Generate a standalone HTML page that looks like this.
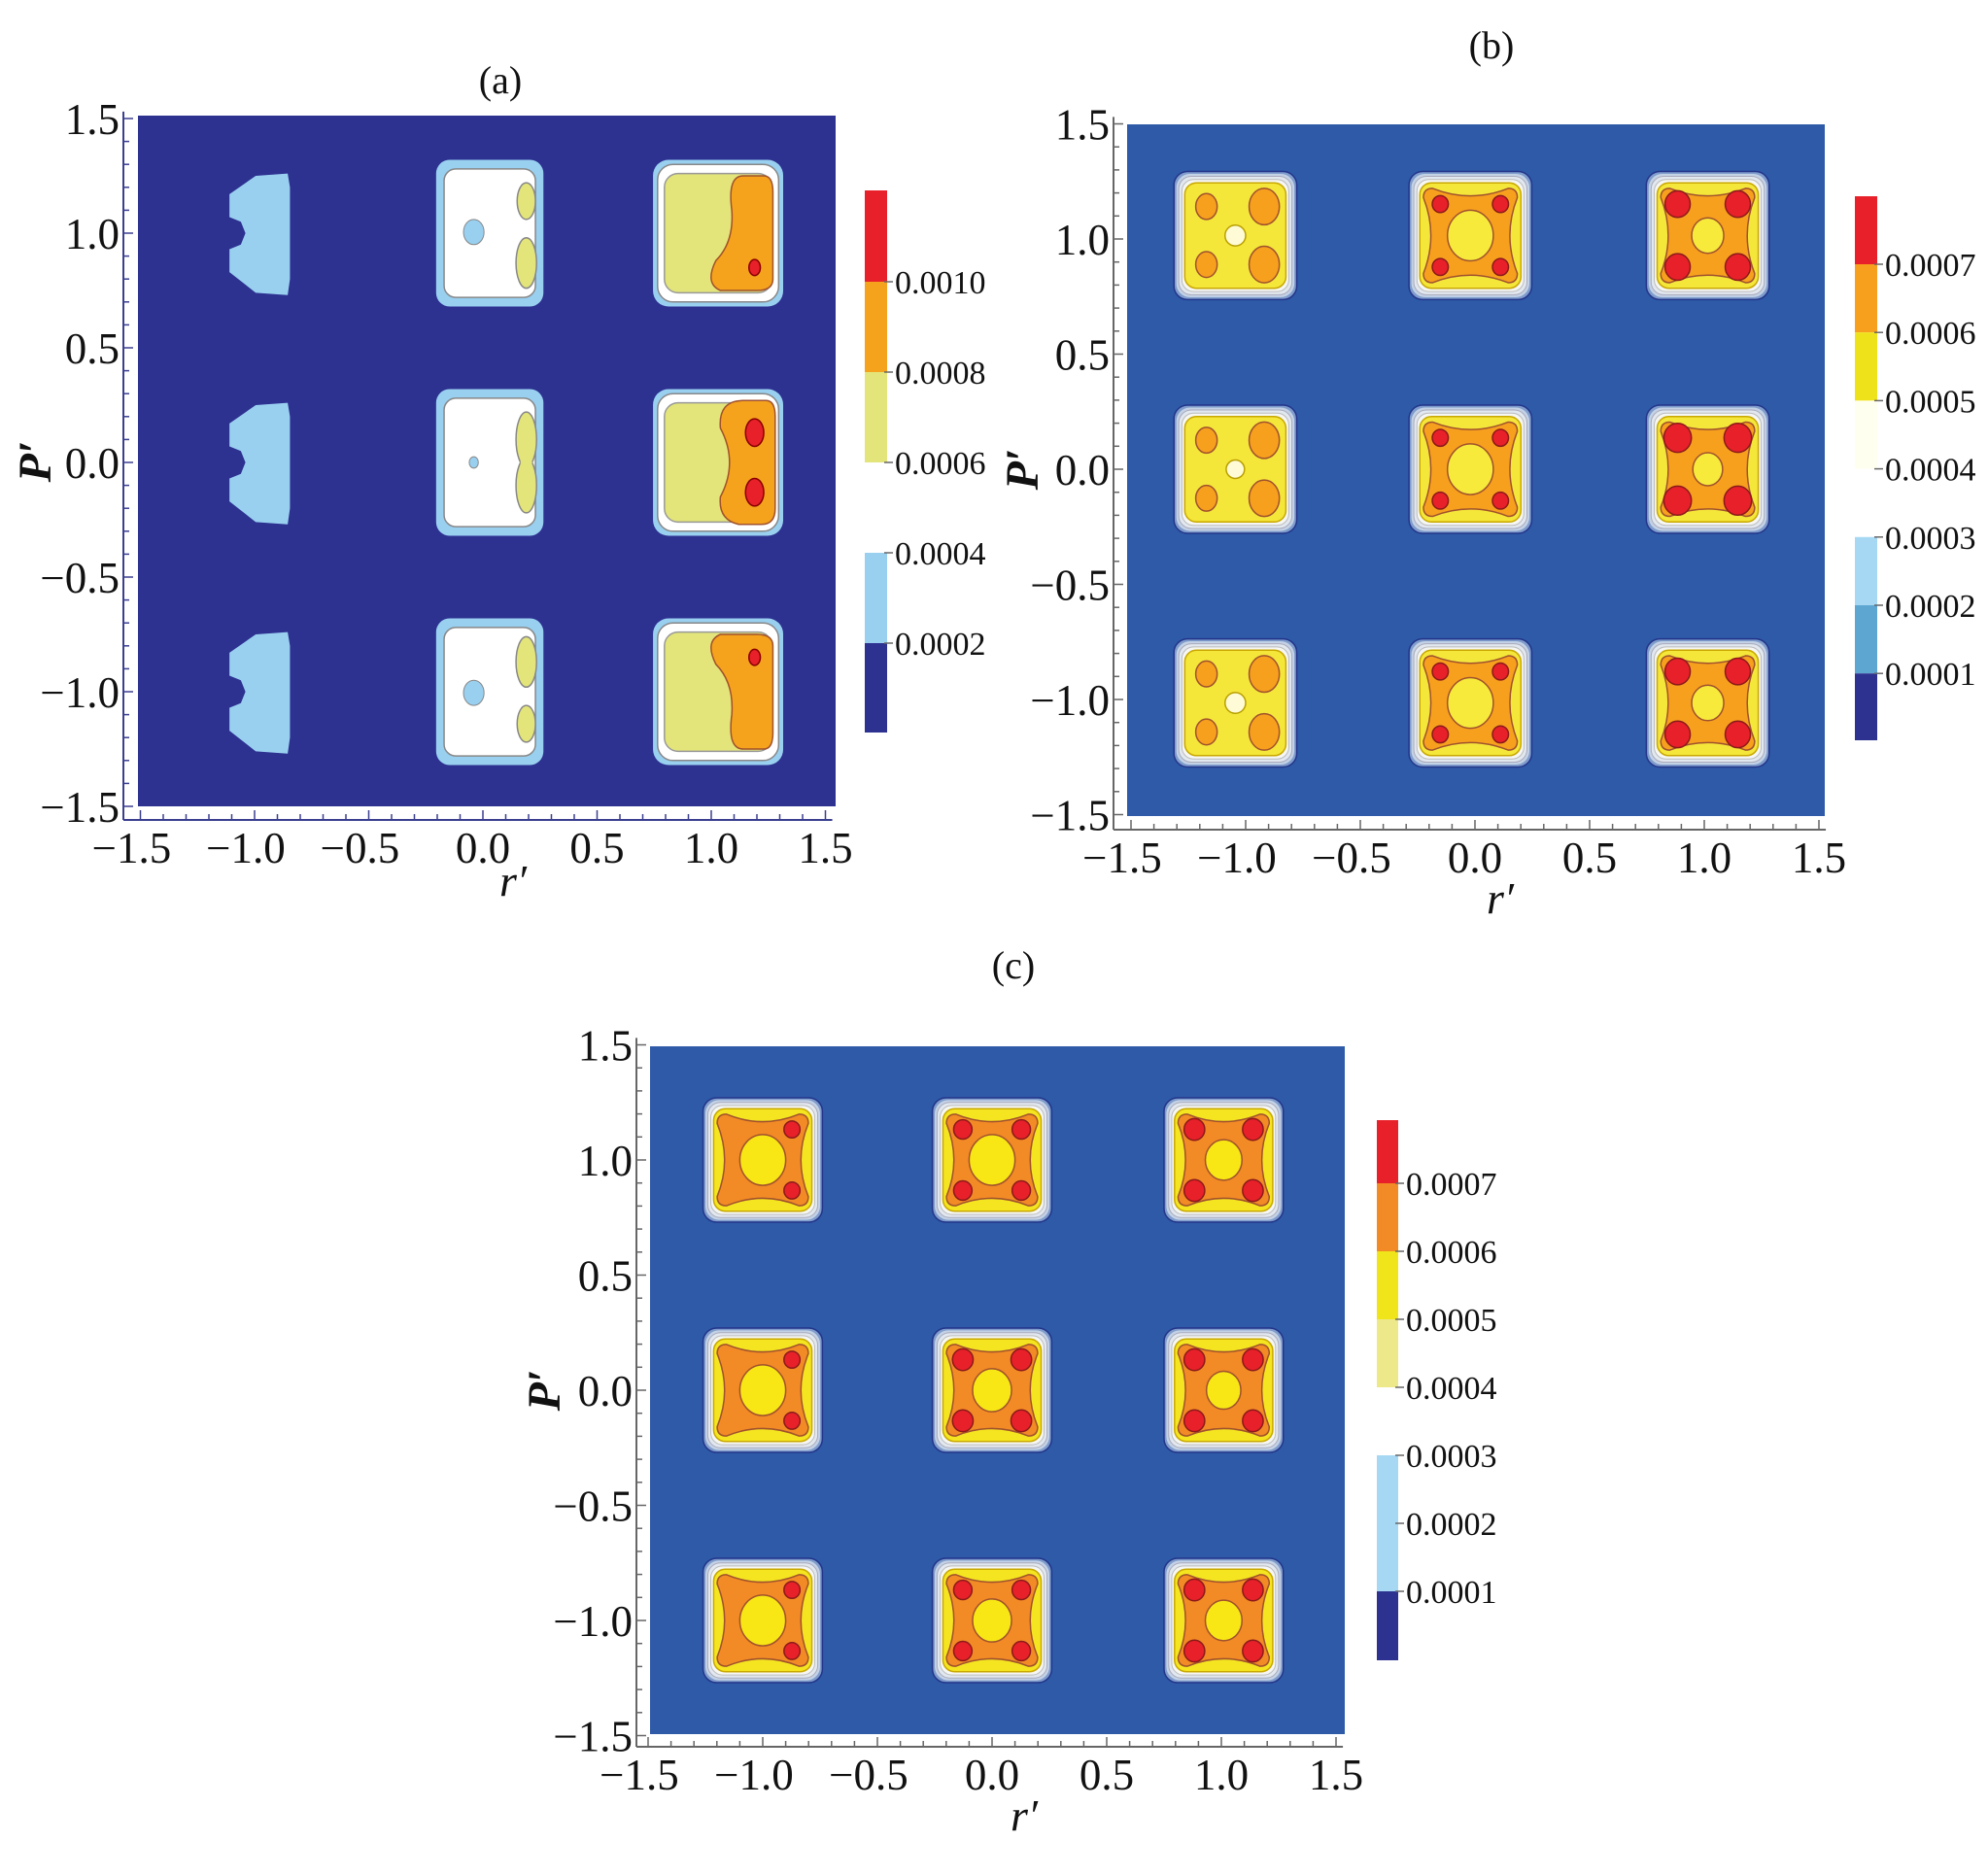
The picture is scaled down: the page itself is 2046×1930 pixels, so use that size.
<!DOCTYPE html>
<html><head><meta charset="utf-8"><style>
html,body{margin:0;padding:0;background:#fff;}
svg{display:block;}
text{font-family:"Liberation Serif",serif;fill:#111;}
</style></head><body>
<svg id="fig" width="2046" height="1930" viewBox="0 0 2046 1930">
</svg>
<script>
// ---------- data ----------
const rCenters = [-1, 0, 1];
const pCenters = [1, 0, -1];
const xTicks = [-1.5, -1.0, -0.5, 0.0, 0.5, 1.0, 1.5];
const xTickLabels = ["\u22121.5","\u22121.0","\u22120.5","0.0","0.5","1.0","1.5"];
const yTicks = [1.5, 1.0, 0.5, 0.0, -0.5, -1.0, -1.5];
const yTickLabels = ["1.5","1.0","0.5","0.0","\u22120.5","\u22121.0","\u22121.5"];
const cbarA_labels = ["0.0010","0.0008","0.0006","0.0004","0.0002"];
const cbarA_colors = ["#e8202a","#f5a21d","#e3e57a","#ffffff","#99d0f0","#2d3190"];
const cbarB_labels = ["0.0007","0.0006","0.0005","0.0004","0.0003","0.0002","0.0001"];
const cbarB_colors = ["#e8202a","#f7a01e","#eee21a","#fffff0","#ffffff","#a6d8f4","#5ea6d2","#2d3190"];
const cbarC_labels = ["0.0007","0.0006","0.0005","0.0004","0.0003","0.0002","0.0001"];
const cbarC_colors = ["#e8202a","#f28a25","#f0e41a","#ede88a","#ffffff","#a6d8f4","#a6d8f4","#2d3190"];
const bCenterR = [[0.045,0.10,0.07],[0.04,0.10,0.065],[0.045,0.10,0.07]];
const bSpotR   = [[0.055,0.035,0.055],[0.055,0.035,0.06],[0.055,0.035,0.055]];
const bFill    = ["yellow","orange","orange"];
const cCenterR = [[0.10,0.10,0.08],[0.10,0.085,0.075],[0.10,0.085,0.08]];
const cSpotR   = [[0.035,0.04,0.045],[0.035,0.045,0.045],[0.035,0.04,0.045]];

const NS="http://www.w3.org/2000/svg";
const svg=document.getElementById('fig');
function el(tag,attrs,parent){const e=document.createElementNS(NS,tag);for(const k in attrs)e.setAttribute(k,attrs[k]);(parent||svg).appendChild(e);return e;}

function makePanel(P){
  const g=el('g',{});
  
  
  const sx=v=>P.x0+v*P.ux, sy=v=>P.y0-v*P.uy;
  P.sx=sx;P.sy=sy;
  const bg=el('rect',{x:P.fill[0],y:P.fill[1],width:P.fill[2]-P.fill[0],height:P.fill[3]-P.fill[1],fill:P.bg},g);
  
  
  P.g=g;
  const ax=el('g',{stroke:P.axis,'stroke-width':2,fill:'none'},g);
  
  
  el('line',{x1:P.axX,y1:sy(1.53),x2:P.axX,y2:P.axY},ax);
  el('line',{x1:P.axX,y1:P.axY,x2:sx(1.53),y2:P.axY},ax);
  for(let i=-15;i<=15;i++){
    const v=i/10, major=(i%5===0);
    const L=major?10:6;
    el('line',{x1:P.axX,y1:sy(v),x2:P.axX+L,y2:sy(v),'stroke-width':1.5},ax);
    el('line',{x1:sx(v),y1:P.axY,x2:sx(v),y2:P.axY-L,'stroke-width':1.5},ax);
  }
  xTicks.forEach((v,i)=>{
    const t=el('text',{x:sx(v)-(v<0?9:0),y:P.axY+44,'font-size':45,'text-anchor':'middle'},g);
    t.textContent=xTickLabels[i];
    
    
  });
  yTicks.forEach((v,i)=>{
    const t=el('text',{x:P.axX-4,y:sy(v)+16,'font-size':45,'text-anchor':'end'},g);
    t.textContent=yTickLabels[i];
    
    
  });
  const xl=el('text',{x:P.xlab[0],y:P.xlab[1],'font-size':46,'font-style':'italic','text-anchor':'middle'},g);
  xl.textContent=P.xlabText;
  
  
  const yl=el('text',{x:0,y:0,'font-size':48,'font-style':'italic','font-weight':'bold','text-anchor':'middle',transform:`translate(${P.ylab[0]},${P.ylab[1]}) rotate(-90)`},g);
  yl.textContent=P.ylabText;
  
  
  const tt=el('text',{x:P.title[0],y:P.title[1],'font-size':40,'text-anchor':'middle'},g);
  tt.textContent=P.titleText;
  
  
  const cb=el('g',{},g);
  
  
  const n=P.cbColors.length;
  const tickStep=P.cbTickStep;
  P.cbColors.forEach((c,i)=>{
    const top=i===0?P.cb[1]:P.cbTick1+(i-1)*tickStep;
    const bot=i===n-1?P.cb[3]:P.cbTick1+i*tickStep;
    const r=el('rect',{x:P.cb[0],y:top,width:P.cb[2]-P.cb[0],height:bot-top,fill:c},cb);
    
    
  });
  P.cbLabels.forEach((lab,i)=>{
    const y=P.cbTick1+i*tickStep;
    el('line',{x1:P.cb[2]-3,y1:y,x2:P.cb[2]+6,y2:y,stroke:'#666','stroke-width':1.5},cb);
    const t=el('text',{x:P.cb[2]+8,y:y+12,'font-size':34},cb);
    t.textContent=lab;
    
    
  });
}
function rr(P,cx,cy,hx,hy,rad,attrs,parent){
  const x=P.sx(cx-hx),y=P.sy(cy+hy),w=hx*2*P.ux,h=hy*2*P.uy;
  return el('rect',Object.assign({x:x,y:y,width:w,height:h,rx:rad,ry:rad},attrs),parent);
}
function star(P,cx,cy,h,d,attrs,parent){
  const X=v=>P.sx(cx+v),Y=v=>P.sy(cy+v);
  const dd=`M${X(-h)},${Y(h-0.04)} Q${X(-h)},${Y(h)} ${X(-h+0.04)},${Y(h)} Q${X(0)},${Y(h-d)} ${X(h-0.04)},${Y(h)} Q${X(h)},${Y(h)} ${X(h)},${Y(h-0.04)} Q${X(h-d)},${Y(0)} ${X(h)},${Y(-h+0.04)} Q${X(h)},${Y(-h)} ${X(h-0.04)},${Y(-h)} Q${X(0)},${Y(-h+d)} ${X(-h+0.04)},${Y(-h)} Q${X(-h)},${Y(-h)} ${X(-h)},${Y(-h+0.04)} Q${X(-h+d)},${Y(0)} ${X(-h)},${Y(h-0.04)} Z`;
  return el('path',Object.assign({d:dd},attrs),parent);
}
function ell(P,cx,cy,rx,ry,attrs,parent){
  return el('ellipse',Object.assign({cx:P.sx(cx),cy:P.sy(cy),rx:rx*P.ux,ry:ry*P.uy},attrs),parent);
}

// ---------- panel (a) ----------
const A={name:'panel-a',x0:497,y0:476,ux:235,uy:236,fill:[142,119,860,830],bg:'#2d3190',axis:'#3a3f8f',
  axX:127,axY:844,xlab:[528,922],xlabText:'r\u2032',ylab:[52,475],ylabText:'P\u2032',title:[515,96],titleText:'(a)',
  cb:[890,196,913,754],cbTick1:290,cbTickStep:93,cbColors:cbarA_colors,cbLabels:cbarA_labels};
makePanel(A);
pCenters.forEach((pc,ri)=>{
  const cx=-0.965, g=A.g;
  const pts=[[-0.145,0.17],[-0.03,0.25],[0.11,0.26],[0.12,0.2],[0.12,-0.2],[0.11,-0.27],[-0.03,-0.26],[-0.145,-0.17],[-0.145,-0.07],[-0.095,-0.05],[-0.075,0],[-0.095,0.05],[-0.145,0.07]];
  const d=pts.map((p,i)=>(i?'L':'M')+A.sx(cx+p[0])+','+A.sy(pc+p[1])).join(' ')+'Z';
  const s=el('path',{d:d,fill:'#99d0f0','stroke-linejoin':'round'},g);
  
  
  const c0=el('g',{},g);
  
  
  rr(A,0.03,pc,0.235,0.32,14,{fill:'#99d0f0'},c0);
  rr(A,0.03,pc,0.2,0.28,12,{fill:'#fff',stroke:'#888','stroke-width':1.5},c0);
  if(ri===1){
    ell(A,0.19,pc+0.1,0.045,0.12,{fill:'#e3e57a',stroke:'#888','stroke-width':1.5},c0);
    ell(A,0.19,pc-0.1,0.045,0.12,{fill:'#e3e57a',stroke:'#888','stroke-width':1.5},c0);
    rr(A,0.19,pc,0.025,0.06,0,{fill:'#e3e57a'},c0);
    ell(A,-0.04,pc,0.02,0.025,{fill:'#99d0f0',stroke:'#888'},c0);
  } else {
    const sgn=ri===0?1:-1;
    ell(A,0.19,pc+0.14*sgn,0.04,0.08,{fill:'#e3e57a',stroke:'#888','stroke-width':1.5},c0);
    ell(A,0.19,pc-0.13*sgn,0.045,0.11,{fill:'#e3e57a',stroke:'#888','stroke-width':1.5},c0);
    ell(A,-0.04,pc+0.005*sgn,0.045,0.055,{fill:'#99d0f0',stroke:'#888'},c0);
  }
  const c1=el('g',{},g);
  
  
  const dx=0.04;
  rr(A,0.99+dx,pc,0.285,0.32,16,{fill:'#99d0f0'},c1);
  rr(A,0.99+dx,pc,0.265,0.30,16,{fill:'#fff',stroke:'#888','stroke-width':1.5},c1);
  rr(A,0.99+dx,pc,0.235,0.26,14,{fill:'#e3e57a',stroke:'#999','stroke-width':1.5},c1);
  if(ri===1){
    const X=v=>A.sx(v+dx),Y=v=>A.sy(pc+v);
    const d2=`M${X(1.1)},${Y(0.27)} L${X(1.2)},${Y(0.27)} Q${X(1.24)},${Y(0.27)} ${X(1.24)},${Y(0.2)} L${X(1.24)},${Y(-0.2)} Q${X(1.24)},${Y(-0.27)} ${X(1.18)},${Y(-0.27)} L${X(1.08)},${Y(-0.27)} Q${X(0.99)},${Y(-0.25)} ${X(1.0)},${Y(-0.15)} Q${X(1.08)},${Y(0)} ${X(1.0)},${Y(0.15)} Q${X(0.99)},${Y(0.27)} ${X(1.1)},${Y(0.27)} Z`;
    el('path',{d:d2,fill:'#f5a21d',stroke:'#a0522d','stroke-width':1.5},c1);
    ell(A,1.15+dx,pc+0.13,0.04,0.06,{fill:'#e8202a',stroke:'#800','stroke-width':1.5},c1);
    ell(A,1.15+dx,pc-0.13,0.04,0.06,{fill:'#e8202a',stroke:'#800','stroke-width':1.5},c1);
  } else {
    const sgn=ri===0?1:-1;
    const X=v=>A.sx(v+dx),Y=v=>A.sy(pc+v*sgn);
    const d2=`M${X(1.1)},${Y(0.25)} L${X(1.19)},${Y(0.25)} Q${X(1.23)},${Y(0.25)} ${X(1.23)},${Y(0.18)} L${X(1.23)},${Y(-0.2)} Q${X(1.23)},${Y(-0.25)} ${X(1.16)},${Y(-0.25)} L${X(1.0)},${Y(-0.25)} Q${X(0.93)},${Y(-0.22)} ${X(0.98)},${Y(-0.12)} Q${X(1.06)},${Y(-0.04)} ${X(1.05)},${Y(0.1)} Q${X(1.03)},${Y(0.25)} ${X(1.1)},${Y(0.25)} Z`;
    el('path',{d:d2,fill:'#f5a21d',stroke:'#a0522d','stroke-width':1.5},c1);
    ell(A,1.15+dx,pc-0.15*sgn,0.025,0.035,{fill:'#e8202a',stroke:'#800','stroke-width':1.5},c1);
  }
});

// ---------- generic square cells for (b)/(c) ----------
function squareCells(P,centerR,spotR,fillType,colors,shiftX,k){
  pCenters.forEach((pc,ri)=>{
    rCenters.forEach((rc,ci)=>{
      const cx=rc*k.pos+shiftX[ci], cy=pc*k.pos, g=el('g',{},P.g);
      const s=k.size;
      
      
      rr(P,cx,cy,0.255*s,0.265*s,14,{fill:'#7f9ccc',stroke:'#23358a','stroke-width':1.5},g);
      rr(P,cx,cy,0.245*s,0.255*s,14,{fill:'#c4d2e6'},g);
      rr(P,cx,cy,0.235*s,0.245*s,13,{fill:'#e2e8f0',stroke:'#aab','stroke-width':1},g);
      rr(P,cx,cy,0.222*s,0.232*s,12,{fill:'#f6f7f4',stroke:'#bbb','stroke-width':1},g);
      rr(P,cx,cy,0.21*s,0.218*s,12,{fill:colors.yellow,stroke:'#c9a800','stroke-width':1.5},g);
      const ft=fillType[ci];
      if(ft==='orange'){
        star(P,cx,cy,0.195*s,0.065,{fill:colors.orange,stroke:'#a0522d','stroke-width':1.5},g);
        [[1,1],[1,-1],[-1,1],[-1,-1]].forEach(([a,b])=>{
          let rad=spotR[ri][ci];
          if(colors.leftSmall&&ci===0&&a<0) return;
          ell(P,cx+a*0.125*s,cy+b*0.13*s,rad,rad*1.05,{fill:'#e8202a',stroke:'#8b1a1a','stroke-width':1.5},g);
        });
        const cr=centerR[ri][ci];
        ell(P,cx,cy,cr,cr*1.1,{fill:colors.center,stroke:'#a0522d','stroke-width':1.5},g);
      } else {
        [[1,1],[1,-1],[-1,1],[-1,-1]].forEach(([a,b])=>{
          const rad=spotR[ri][ci]*(a>0?1.2:0.85);
          ell(P,cx+a*0.12*s,cy+b*0.12*s,rad,rad*1.2,{fill:colors.orange,stroke:'#a0522d','stroke-width':1.5},g);
        });
        const cr=centerR[ri][ci];
        ell(P,cx,cy,cr,cr,{fill:'#fffbd6',stroke:'#b8a000','stroke-width':1.5},g);
      }
    });
  });
}

// ---------- panel (b) ----------
const B={name:'panel-b',x0:1518,y0:483,ux:236,uy:237,fill:[1160,128,1878,840],bg:'#2e5aa8',axis:'#666',
  axX:1146,axY:854,xlab:[1544,940],xlabText:'r\u2032',ylab:[1068,483],ylabText:'P\u2032',title:[1535,60],titleText:'(b)',
  cb:[1909,202,1932,762],cbTick1:272,cbTickStep:70.2,cbColors:cbarB_colors,cbLabels:cbarB_labels};
makePanel(B);
squareCells(B,bCenterR,bSpotR,bFill,{yellow:'#f5e63a',orange:'#f7a01e',center:'#f8ea3a'},[-0.03,-0.02,0],{pos:1.015,size:1.05});

// ---------- panel (c) ----------
const C={name:'panel-c',x0:1021,y0:1431,ux:236,uy:237,fill:[669,1077,1384,1785],bg:'#2e5aa8',axis:'#666',
  axX:655,axY:1798,xlab:[1054,1884],xlabText:'r\u2032',ylab:[576,1431],ylabText:'P\u2032',title:[1043,1007],titleText:'(c)',
  cb:[1417,1153,1439,1709],cbTick1:1218,cbTickStep:70,cbColors:cbarC_colors,cbLabels:cbarC_labels};
makePanel(C);
squareCells(C,cCenterR,cSpotR,["orange","orange","orange"],{yellow:'#f5e520',orange:'#f28a25',center:'#f8e714',leftSmall:true},[0.0,0,0.01],{pos:1.0,size:1.02});
</script>
</body></html>
